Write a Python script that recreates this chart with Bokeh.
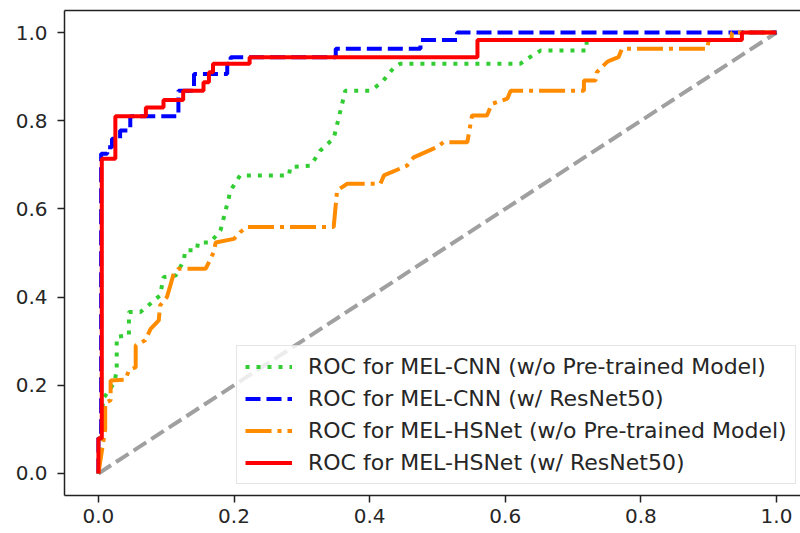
from bokeh.plotting import figure
from bokeh.models import LinearAxis, FixedTicker, Range1d, NumeralTickFormatter
from bokeh.embed import file_html
from bokeh.resources import INLINE

# ROC data (false positive rate / true positive rate)
cnn_fpr = [0, 0.007, 0.012, 0.024, 0.027, 0.027, 0.045, 0.045, 0.062, 0.079, 0.091, 0.096,
           0.114, 0.126, 0.128, 0.145, 0.147, 0.165, 0.18, 0.185, 0.195, 0.209, 0.281, 0.283,
           0.313, 0.327, 0.347, 0.357, 0.364, 0.401, 0.418, 0.436, 0.445, 0.622, 0.632, 0.652,
           0.72, 0.72, 0.949, 0.949, 1.0]
cnn_tpr = [0, 0.17, 0.18, 0.207, 0.237, 0.31, 0.313, 0.366, 0.366, 0.388, 0.404, 0.445,
           0.449, 0.483, 0.506, 0.506, 0.524, 0.524, 0.551, 0.581, 0.642, 0.676, 0.676, 0.695,
           0.698, 0.732, 0.76, 0.823, 0.868, 0.868, 0.887, 0.921, 0.929, 0.929, 0.94, 0.959,
           0.959, 0.983, 0.983, 1.0, 1.0]

cnn_res_fpr = [0, 0, 0.004, 0.004, 0.013, 0.013, 0.02, 0.02, 0.032, 0.032, 0.047, 0.047,
               0.118, 0.118, 0.141, 0.141, 0.19, 0.19, 0.195, 0.195, 0.35, 0.35, 0.475, 0.475,
               0.529, 0.529, 1.0]
cnn_res_tpr = [0, 0.09, 0.09, 0.725, 0.725, 0.74, 0.74, 0.759, 0.759, 0.778, 0.778, 0.81,
               0.81, 0.868, 0.868, 0.906, 0.906, 0.929, 0.929, 0.944, 0.944, 0.963, 0.963, 0.983,
               0.983, 1.0, 1.0]

hs_fpr = [0, 0.005, 0.01, 0.01, 0.018, 0.018, 0.04, 0.045, 0.055, 0.055, 0.069, 0.077, 0.089,
          0.091, 0.101, 0.106, 0.111, 0.118, 0.158, 0.163, 0.17, 0.173, 0.2, 0.209, 0.219, 0.347,
          0.352, 0.359, 0.367, 0.416, 0.421, 0.455, 0.465, 0.499, 0.509, 0.544, 0.551, 0.573,
          0.58, 0.603, 0.608, 0.716, 0.716, 0.733, 0.735, 0.75, 0.755, 0.767, 0.772, 0.898, 0.9,
          0.934, 0.934, 1.0]
hs_tpr = [0, 0.05, 0.1, 0.16, 0.166, 0.211, 0.213, 0.234, 0.241, 0.29, 0.302, 0.328, 0.347,
          0.381, 0.4, 0.426, 0.453, 0.464, 0.464, 0.479, 0.502, 0.524, 0.532, 0.547, 0.559, 0.559,
          0.642, 0.649, 0.657, 0.657, 0.676, 0.698, 0.717, 0.74, 0.751, 0.751, 0.812, 0.812,
          0.838, 0.85, 0.868, 0.868, 0.891, 0.891, 0.91, 0.933, 0.937, 0.944, 0.963, 0.963, 0.983,
          0.983, 1.0, 1.0]

hs_res_fpr = [0, 0, 0.005, 0.005, 0.025, 0.025, 0.07, 0.07, 0.096, 0.096, 0.125, 0.125, 0.155,
              0.155, 0.163, 0.163, 0.169, 0.169, 0.223, 0.223, 0.559, 0.559, 0.949, 0.949, 1.0]
hs_res_tpr = [0, 0.08, 0.08, 0.714, 0.714, 0.81, 0.81, 0.83, 0.83, 0.847, 0.847, 0.868, 0.868,
              0.887, 0.887, 0.91, 0.91, 0.929, 0.929, 0.944, 0.944, 0.983, 0.983, 1.0, 1.0]

chance_x = [0, 1]
chance_y = [0, 1]

labels = [
    "ROC for MEL-CNN (w/o Pre-trained Model)",
    "ROC for MEL-CNN (w/ ResNet50)",
    "ROC for MEL-HSNet (w/o Pre-trained Model)",
    "ROC for MEL-HSNet (w/ ResNet50)",
]
tick_values = [0.0, 0.2, 0.4, 0.6, 0.8, 1.0]

FONT = "DejaVu Sans"

p = figure(width=800, height=533, output_backend="svg", toolbar_location=None,
           x_range=Range1d(-0.05, 1.0354), y_range=Range1d(-0.05, 1.05),
           min_border_left=64, min_border_right=0, min_border_top=10, min_border_bottom=38)
p.outline_line_color = None
p.grid.visible = False
p.background_fill_color = "white"
p.border_fill_color = "white"

p.line(chance_x, chance_y, line_color="#a0a0a0", line_width=4, line_dash="15 6")
p.line(cnn_fpr, cnn_tpr, line_color="#32CD32", line_width=4, line_dash="4 7",
       legend_label=labels[0])
p.line(cnn_res_fpr, cnn_res_tpr, line_color="blue", line_width=4, line_dash="15 6",
       legend_label=labels[1])
p.line(hs_fpr, hs_tpr, line_color="#FF8C00", line_width=4, line_dash="26 6 4 6",
       legend_label=labels[2])
p.line(hs_res_fpr, hs_res_tpr, line_color="red", line_width=4, legend_label=labels[3])

for ax in (p.xaxis[0], p.yaxis[0]):
    ax.ticker = FixedTicker(ticks=tick_values)
    ax.formatter = NumeralTickFormatter(format="0.0")
    ax.minor_tick_line_color = None
    ax.major_tick_out = 7
    ax.major_tick_in = 0
    ax.major_tick_line_width = 1.5
    ax.major_tick_line_color = "#222222"
    ax.axis_line_width = 1.5
    ax.axis_line_color = "#222222"
    ax.major_label_text_font = FONT
    ax.major_label_text_font_size = "20px"
    ax.major_label_text_color = "#262626"
p.xaxis[0].major_label_standoff = 6
p.yaxis[0].major_label_standoff = 10

top = LinearAxis(ticker=FixedTicker(ticks=[]), major_tick_out=0, major_tick_in=0,
                 minor_tick_out=0, minor_tick_in=0, major_label_standoff=0,
                 major_label_text_font_size="0px", axis_line_width=1.5,
                 axis_line_color="#222222")
p.add_layout(top, "above")

lg = p.legend[0]
lg.location = (172, 11)
lg.label_text_font = FONT
lg.label_text_font_size = "22px"
lg.label_text_color = "#262626"
lg.glyph_width = 47
lg.glyph_height = 23
lg.label_height = 23
lg.label_standoff = 16
lg.spacing = 7
lg.padding = 8
lg.margin = 0
lg.border_line_color = "#cccccc"
lg.border_line_width = 1.5
lg.background_fill_alpha = 0.8

open("out.html", "w").write(file_html(p, INLINE))
